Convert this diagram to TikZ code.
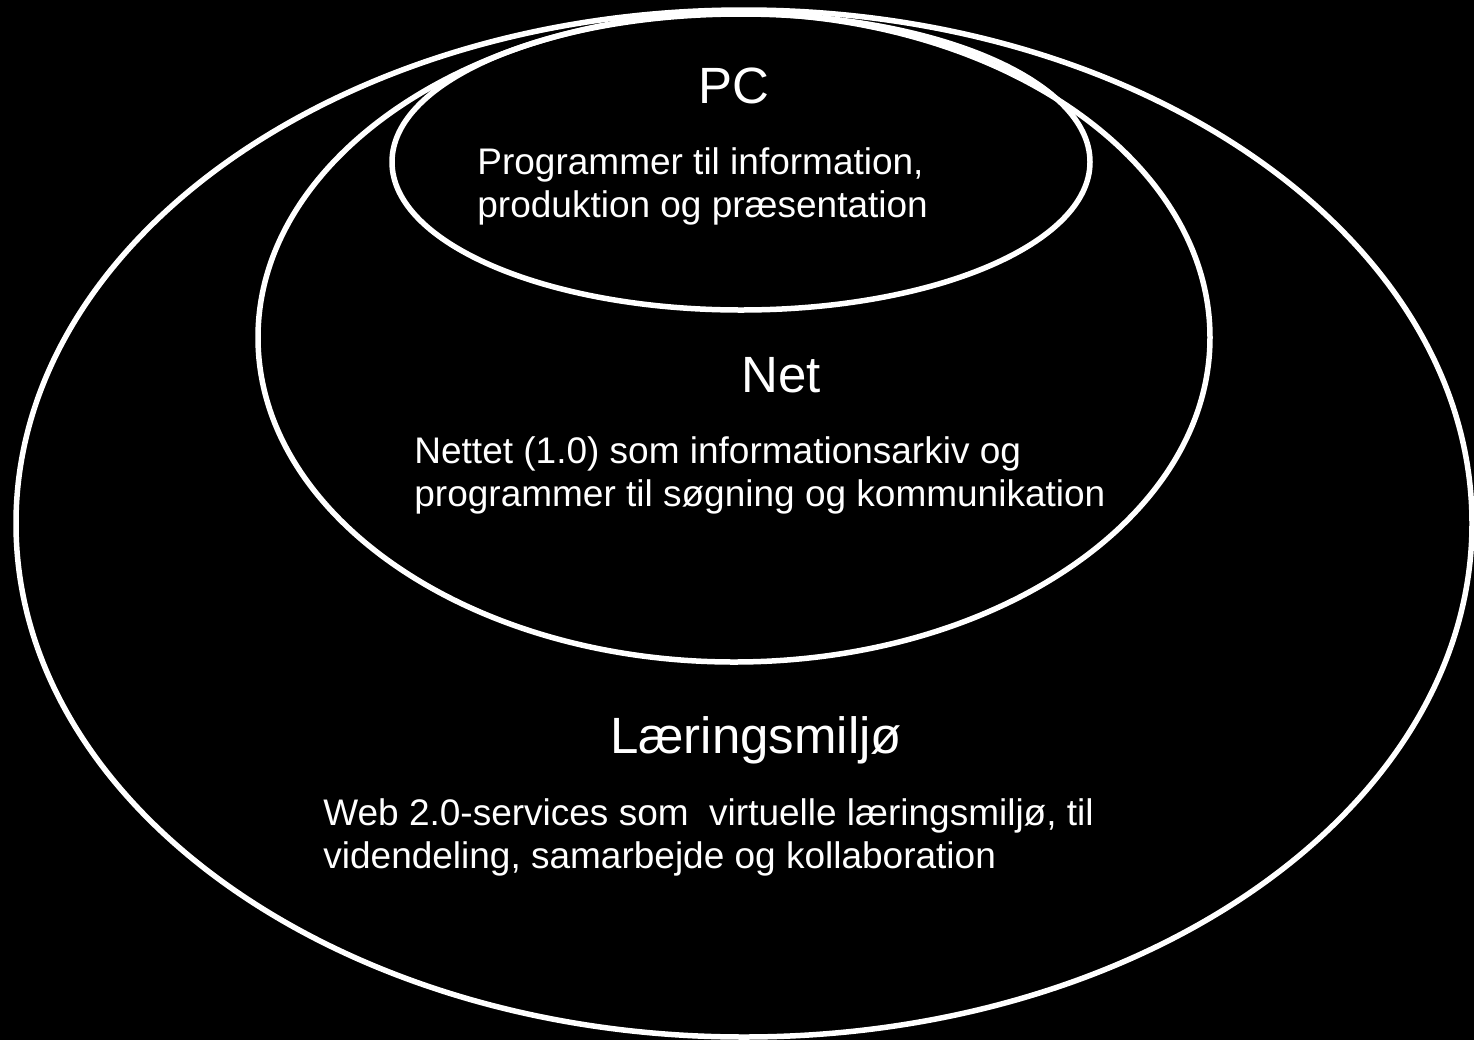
\documentclass[tikz,border=0pt]{standalone}
\usepackage{fontspec}
\setmainfont{Liberation Sans}
\usetikzlibrary{shapes.geometric}

\begin{document}
\begin{tikzpicture}[x=0.5pt,y=-0.5pt,
  ring/.style={draw=white,line width=2.75pt,ellipse,inner sep=0pt},
  title/.style={text=white,inner sep=0pt,anchor=base,font=\fontsize{25.5}{30}\selectfont},
  body/.style={text=white,inner sep=0pt,anchor=base west,align=left,font=\fontsize{18.5}{21.5}\selectfont}]
  \fill[black] (0,0) rectangle (1474,1040);
  \clip (0,0) rectangle (1474,1040);

  % the three rings
  \node[ring,minimum width=728pt,minimum height=513.5pt] (miljo) at (744,523.5) {};
  \node[ring,minimum width=476pt,minimum height=324.5pt] (net) at (734,337.5) {};
  \node[ring,minimum width=349pt,minimum height=148pt] (pc) at (741,162) {};

  % texts (base = last line)
  \node[title] (pctitle) at (734,103) {PC};
  \node[body] (pctext) at (477,217) {Programmer til information,\\produktion og præsentation};

  \node[title] (nettitle) at (781,392) {Net};
  \node[body] (nettext) at (414,506) {Nettet (1.0) som informationsarkiv og\\programmer til søgning og kommunikation};

  \node[title] (miljotitle) at (756,753) {Læringsmiljø};
  \node[body] (miljotext) at (323,868) {Web 2.0-services som~ virtuelle læringsmiljø, til\\videndeling, samarbejde og kollaboration};
\end{tikzpicture}
\end{document}
